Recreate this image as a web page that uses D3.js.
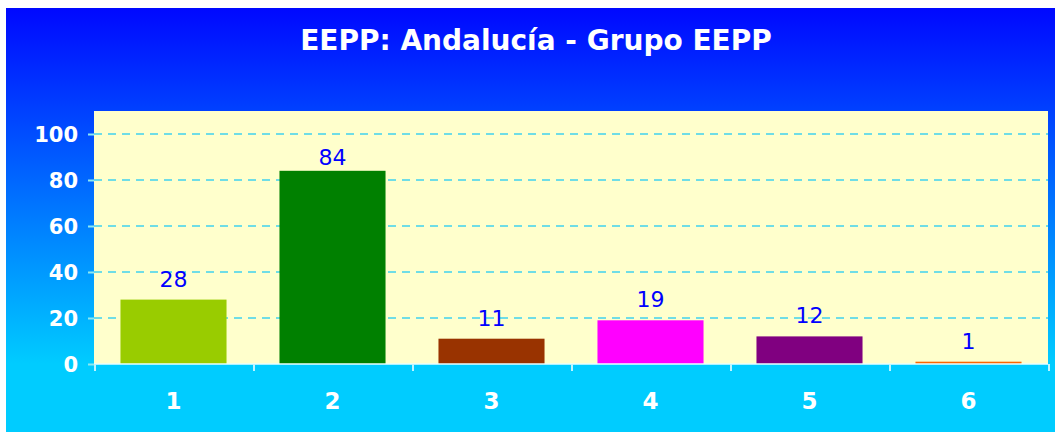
<!DOCTYPE html>
<html>
<head>
<meta charset="utf-8">
<script src="https://cdn.jsdelivr.net/npm/d3@7"></script>
<style>
  body { margin: 0; background: #fff; }
  text { font-family: Verdana, "DejaVu Sans", sans-serif; }
</style>
</head>
<body>
<div class="chart"></div>
<script>
// Chart data
var categories = ["1", "2", "3", "4", "5", "6"];
var values = [28, 84, 11, 19, 12, 1];
var barColors = ["#99cc00", "#008000", "#993300", "#ff00ff", "#800080", "#ff6600"];
var yTicks = [0, 20, 40, 60, 80, 100];
var title = "EEPP: Andalucía - Grupo EEPP";

var svgWidth = 1055;
var svgHeight = 432;

// plot area inside the blue frame
var plot = { left: 94, right: 1048, top: 111, bottom: 364 };

var svg = d3.select(".chart")
  .append("svg")
  .attr("width", svgWidth)
  .attr("height", svgHeight);

// background gradient, blue at the top fading to cyan
var defs = svg.append("defs");
var grad = defs.append("linearGradient")
  .attr("id", "bg")
  .attr("gradientUnits", "userSpaceOnUse")
  .attr("x1", 0).attr("y1", 8)
  .attr("x2", 0).attr("y2", 364);
grad.append("stop").attr("offset", "0%").attr("stop-color", "#0008ff");
grad.append("stop").attr("offset", "100%").attr("stop-color", "#00ccff");

svg.append("rect")
  .attr("x", 6)
  .attr("y", 8)
  .attr("width", svgWidth - 6)
  .attr("height", svgHeight - 8)
  .attr("fill", "url(#bg)");

svg.append("text")
  .attr("x", 536)
  .attr("y", 50)
  .attr("text-anchor", "middle")
  .attr("fill", "#fff")
  .style("font-weight", "bold")
  .style("font-size", "28px")
  .text(title);

// Scales
var xScale = d3.scaleBand()
  .domain(categories)
  .range([plot.left, plot.right])
  .paddingInner(0.333)
  .paddingOuter(0.1665);

var bandStep = (plot.right - plot.left) / categories.length;

var yScale = d3.scaleLinear()
  .domain([0, 100])
  .range([plot.bottom, plot.bottom - 230]);

svg.append("rect")
  .attr("x", plot.left)
  .attr("y", plot.top)
  .attr("width", plot.right - plot.left)
  .attr("height", plot.bottom - plot.top)
  .attr("fill", "#ffffcc");

// dashed gridlines
svg.append("g")
  .selectAll("line")
  .data(yTicks.filter(function(d) { return d > 0; }))
  .enter()
  .append("line")
  .attr("x1", plot.left)
  .attr("x2", plot.right)
  .attr("y1", function(d) { return yScale(d); })
  .attr("y2", function(d) { return yScale(d); })
  .attr("stroke", "#6fdde6")
  .attr("stroke-width", 2)
  .attr("stroke-dasharray", "8,6");

// left axis
var leftAxis = d3.axisLeft(yScale)
  .tickValues(yTicks)
  .tickSize(6)
  .tickPadding(10);

var gy = svg.append("g")
  .attr("transform", "translate(" + plot.left + ",0)")
  .call(leftAxis);
gy.select(".domain").remove();
gy.selectAll(".tick line").attr("stroke", "#8ee8f0").attr("stroke-width", 2);
gy.selectAll(".tick text")
  .attr("fill", "#fff")
  .style("font-weight", "bold")
  .style("font-size", "21px")
  .attr("dy", "0.36em");

// bars
svg.append("g")
  .selectAll("rect")
  .data(values)
  .enter()
  .append("rect")
  .attr("x", function(d, i) { return xScale(categories[i]); })
  .attr("y", function(d) { return yScale(d); })
  .attr("width", xScale.bandwidth())
  .attr("height", function(d) { return yScale(0) - yScale(d); })
  .attr("fill", function(d, i) { return barColors[i]; });

// value labels, kept below the top gridline
svg.append("g")
  .selectAll("text")
  .data(values)
  .enter()
  .append("text")
  .attr("x", function(d, i) { return xScale(categories[i]) + xScale.bandwidth() / 2; })
  .attr("y", function(d) { return Math.max(yScale(d) - 13, yScale(100) + 31); })
  .attr("text-anchor", "middle")
  .attr("fill", "#0000ff")
  .style("font-size", "22px")
  .text(function(d) { return d; });

// bottom axis line + ticks at band edges
svg.append("line")
  .attr("x1", plot.left)
  .attr("x2", plot.right)
  .attr("y1", plot.bottom)
  .attr("y2", plot.bottom)
  .attr("stroke", "#e8ffff")
  .attr("stroke-width", 1.5);

svg.append("g")
  .selectAll("line")
  .data(d3.range(categories.length + 1))
  .enter()
  .append("line")
  .attr("x1", function(i) { return plot.left + 1 + i * bandStep; })
  .attr("x2", function(i) { return plot.left + 1 + i * bandStep; })
  .attr("y1", plot.bottom)
  .attr("y2", plot.bottom + 7)
  .attr("stroke", "#bff4ff")
  .attr("stroke-width", 2);

svg.append("g")
  .selectAll("text")
  .data(categories)
  .enter()
  .append("text")
  .attr("x", function(d) { return xScale(d) + xScale.bandwidth() / 2; })
  .attr("y", 409)
  .attr("text-anchor", "middle")
  .attr("fill", "#fff")
  .style("font-weight", "bold")
  .style("font-size", "23px")
  .text(function(d) { return d; });
</script>
</body>
</html>
